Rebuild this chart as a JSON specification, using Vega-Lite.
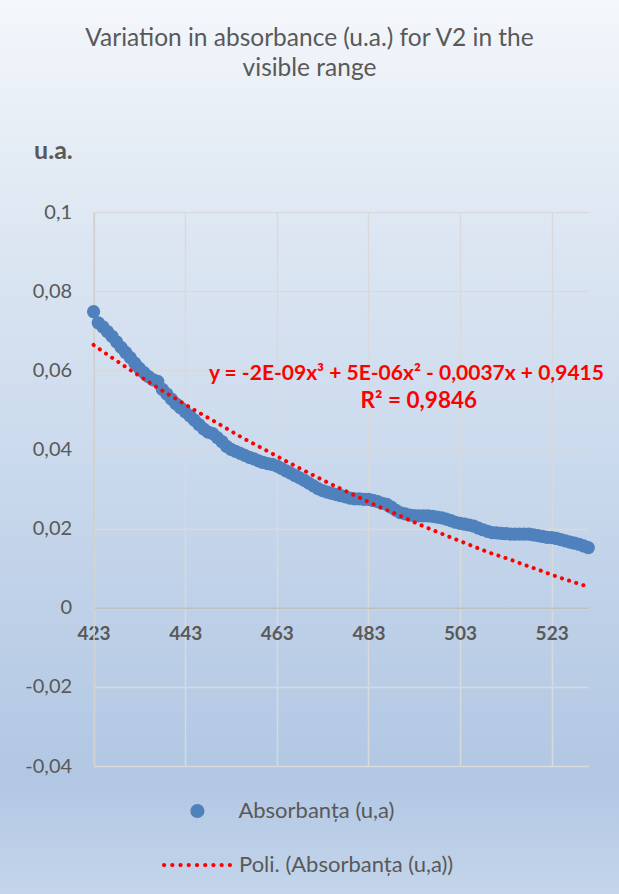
{
  "$schema": "https://vega.github.io/schema/vega-lite/v6.json",
  "width": 619,
  "height": 894,
  "autosize": {"type": "none"},
  "padding": 0,
  "background": "#ffffff",
  "view": {"stroke": null, "fill": {"gradient": "linear", "x1": 0, "y1": 0, "x2": 0, "y2": 1, "stops": [{"offset": 0, "color": "#f4f7fb"}, {"offset": 0.23, "color": "#dfe8f3"}, {"offset": 0.5, "color": "#cbdaed"}, {"offset": 0.87, "color": "#b1c7e3"}, {"offset": 1, "color": "#c4d5eb"}]}},
  "title": {"text": ["Variation in absorbance (u.a.) for V2 in the", "visible range"], "font": "Lato", "fontSize": 24.5, "fontWeight": "normal", "color": "#595959", "lineHeight": 30, "anchor": "middle", "offset": -81},
  "config": {"font": "Lato"},
  "datasets": {
    "absorbance": [
      {"wavelength": 423, "absorbance": 0.0748}, {"wavelength": 424, "absorbance": 0.0720}, {"wavelength": 425, "absorbance": 0.0710}, {"wavelength": 426, "absorbance": 0.0698}, {"wavelength": 427, "absorbance": 0.0686}, {"wavelength": 428, "absorbance": 0.0672}, {"wavelength": 429, "absorbance": 0.0658}, {"wavelength": 430, "absorbance": 0.0645}, {"wavelength": 431, "absorbance": 0.0632}, {"wavelength": 432, "absorbance": 0.0618},
      {"wavelength": 433, "absorbance": 0.0605}, {"wavelength": 434, "absorbance": 0.0594}, {"wavelength": 435, "absorbance": 0.0584}, {"wavelength": 436, "absorbance": 0.0576}, {"wavelength": 437, "absorbance": 0.0572}, {"wavelength": 438, "absorbance": 0.0552}, {"wavelength": 439, "absorbance": 0.0540}, {"wavelength": 440, "absorbance": 0.0527}, {"wavelength": 441, "absorbance": 0.0515}, {"wavelength": 442, "absorbance": 0.0505},
      {"wavelength": 443, "absorbance": 0.0495}, {"wavelength": 444, "absorbance": 0.0485}, {"wavelength": 445, "absorbance": 0.0474}, {"wavelength": 446, "absorbance": 0.0463}, {"wavelength": 447, "absorbance": 0.0452}, {"wavelength": 448, "absorbance": 0.0444}, {"wavelength": 449, "absorbance": 0.0440}, {"wavelength": 450, "absorbance": 0.0430}, {"wavelength": 451, "absorbance": 0.0420}, {"wavelength": 452, "absorbance": 0.0408},
      {"wavelength": 453, "absorbance": 0.0400}, {"wavelength": 454, "absorbance": 0.0395}, {"wavelength": 455, "absorbance": 0.0390}, {"wavelength": 456, "absorbance": 0.0385}, {"wavelength": 457, "absorbance": 0.0380}, {"wavelength": 458, "absorbance": 0.0376}, {"wavelength": 459, "absorbance": 0.0371}, {"wavelength": 460, "absorbance": 0.0367}, {"wavelength": 461, "absorbance": 0.0364}, {"wavelength": 462, "absorbance": 0.0362},
      {"wavelength": 463, "absorbance": 0.0358}, {"wavelength": 464, "absorbance": 0.0352}, {"wavelength": 465, "absorbance": 0.0346}, {"wavelength": 466, "absorbance": 0.0340}, {"wavelength": 467, "absorbance": 0.0334}, {"wavelength": 468, "absorbance": 0.0328}, {"wavelength": 469, "absorbance": 0.0322}, {"wavelength": 470, "absorbance": 0.0315}, {"wavelength": 471, "absorbance": 0.0308}, {"wavelength": 472, "absorbance": 0.0301},
      {"wavelength": 473, "absorbance": 0.0296}, {"wavelength": 474, "absorbance": 0.0292}, {"wavelength": 475, "absorbance": 0.0289}, {"wavelength": 476, "absorbance": 0.0286}, {"wavelength": 477, "absorbance": 0.0283}, {"wavelength": 478, "absorbance": 0.0280}, {"wavelength": 479, "absorbance": 0.0277}, {"wavelength": 480, "absorbance": 0.0275}, {"wavelength": 481, "absorbance": 0.0275}, {"wavelength": 482, "absorbance": 0.0274},
      {"wavelength": 483, "absorbance": 0.0274}, {"wavelength": 484, "absorbance": 0.0271}, {"wavelength": 485, "absorbance": 0.0268}, {"wavelength": 486, "absorbance": 0.0264}, {"wavelength": 487, "absorbance": 0.0261}, {"wavelength": 488, "absorbance": 0.0254}, {"wavelength": 489, "absorbance": 0.0246}, {"wavelength": 490, "absorbance": 0.0240}, {"wavelength": 491, "absorbance": 0.0237}, {"wavelength": 492, "absorbance": 0.0234},
      {"wavelength": 493, "absorbance": 0.0233}, {"wavelength": 494, "absorbance": 0.0232}, {"wavelength": 495, "absorbance": 0.0232}, {"wavelength": 496, "absorbance": 0.0232}, {"wavelength": 497, "absorbance": 0.0231}, {"wavelength": 498, "absorbance": 0.0229}, {"wavelength": 499, "absorbance": 0.0227}, {"wavelength": 500, "absorbance": 0.0224}, {"wavelength": 501, "absorbance": 0.0220}, {"wavelength": 502, "absorbance": 0.0216},
      {"wavelength": 503, "absorbance": 0.0213}, {"wavelength": 504, "absorbance": 0.0211}, {"wavelength": 505, "absorbance": 0.0209}, {"wavelength": 506, "absorbance": 0.0206}, {"wavelength": 507, "absorbance": 0.0201}, {"wavelength": 508, "absorbance": 0.0197}, {"wavelength": 509, "absorbance": 0.0193}, {"wavelength": 510, "absorbance": 0.0190}, {"wavelength": 511, "absorbance": 0.0189}, {"wavelength": 512, "absorbance": 0.0188},
      {"wavelength": 513, "absorbance": 0.0187}, {"wavelength": 514, "absorbance": 0.0186}, {"wavelength": 515, "absorbance": 0.0186}, {"wavelength": 516, "absorbance": 0.0186}, {"wavelength": 517, "absorbance": 0.0186}, {"wavelength": 518, "absorbance": 0.0186}, {"wavelength": 519, "absorbance": 0.0184}, {"wavelength": 520, "absorbance": 0.0182}, {"wavelength": 521, "absorbance": 0.0180}, {"wavelength": 522, "absorbance": 0.0178},
      {"wavelength": 523, "absorbance": 0.0177}, {"wavelength": 524, "absorbance": 0.0175}, {"wavelength": 525, "absorbance": 0.0172}, {"wavelength": 526, "absorbance": 0.0169}, {"wavelength": 527, "absorbance": 0.0166}, {"wavelength": 528, "absorbance": 0.0163}, {"wavelength": 529, "absorbance": 0.0160}, {"wavelength": 530, "absorbance": 0.0156}, {"wavelength": 531, "absorbance": 0.0152}
    ],
    "trend": [
      {"wavelength": 423, "absorbance": 0.0664}, {"wavelength": 427.5, "absorbance": 0.0628}, {"wavelength": 431.9, "absorbance": 0.0594}, {"wavelength": 436.4, "absorbance": 0.0560}, {"wavelength": 441.1, "absorbance": 0.0527},
      {"wavelength": 445.7, "absorbance": 0.0495}, {"wavelength": 450.4, "absorbance": 0.0464}, {"wavelength": 455.1, "absorbance": 0.0432}, {"wavelength": 459.8, "absorbance": 0.0403}, {"wavelength": 464.6, "absorbance": 0.0373},
      {"wavelength": 469.4, "absorbance": 0.0344}, {"wavelength": 474.2, "absorbance": 0.0316}, {"wavelength": 479.1, "absorbance": 0.0289}, {"wavelength": 484, "absorbance": 0.0262}, {"wavelength": 489, "absorbance": 0.0237},
      {"wavelength": 494, "absorbance": 0.0211}, {"wavelength": 499, "absorbance": 0.0187}, {"wavelength": 504, "absorbance": 0.0164}, {"wavelength": 509, "absorbance": 0.0141}, {"wavelength": 514.1, "absorbance": 0.0121},
      {"wavelength": 517.6, "absorbance": 0.0106}, {"wavelength": 521, "absorbance": 0.0092}, {"wavelength": 524.3, "absorbance": 0.0078}, {"wavelength": 527.7, "absorbance": 0.0065}, {"wavelength": 531, "absorbance": 0.0053}
    ]
  },
  "layer": [
    {
      "data": {"name": "absorbance"},
      "mark": {"type": "circle", "size": 175, "opacity": 1},
      "encoding": {
        "x": {"field": "wavelength", "type": "quantitative",
          "scale": {"domain": [423, 531], "range": [93.6, 588.3], "nice": false, "zero": false},
          "axis": {"orient": "top", "offset": {"expr": "-scale('y', 0)"}, "values": [423, 443, 463, 483, 503, 523], "title": null, "grid": true, "gridColor": "#d9d9d9", "gridWidth": 1.5, "domainColor": "#bfbfbf", "domainWidth": 1.5, "ticks": false, "tickSize": 0, "labelFont": "Lato", "labelFontSize": 19, "labelFontWeight": "bold", "labelColor": "#595959", "labelBaseline": "top", "labelPadding": -17, "labelFlush": false, "labelOverlap": false}},
        "y": {"field": "absorbance", "type": "quantitative",
          "scale": {"domain": [-0.04, 0.1], "range": [766, 212], "nice": false, "zero": false},
          "axis": {"offset": {"expr": "-scale('x', 423)"}, "values": [-0.04, -0.02, 0, 0.02, 0.04, 0.06, 0.08, 0.1], "labelExpr": "replace(replace(format(datum.value, '.2~f'), '.', ','), '−', '-')", "title": "u.a.", "titleAngle": 0, "titleAlign": "left", "titleBaseline": "middle", "titleX": -60, "titleY": 150, "titleFont": "Lato", "titleFontSize": 25, "titleFontWeight": "bold", "titleColor": "#595959", "grid": true, "gridColor": "#d9d9d9", "gridWidth": 1.5, "domainColor": "#cfcfcf", "domainWidth": 1.5, "ticks": false, "tickSize": 0, "labelFont": "Lato", "labelFontSize": 20, "labelColor": "#595959", "labelPadding": 22, "labelOverlap": false}},
        "color": {"datum": "Absorbanța (u,a)", "type": "nominal",
          "scale": {"domain": ["Absorbanța (u,a)"], "range": ["#4f81bd"]},
          "legend": {"title": null, "orient": "none", "legendX": 186.4, "legendY": 801, "direction": "vertical", "symbolType": "circle", "symbolSize": 200, "symbolStrokeWidth": 0, "symbolOpacity": 1, "clipHeight": 20, "labelFont": "Lato", "labelFontSize": 22, "labelColor": "#595959", "labelOffset": 30, "labelLimit": 400}}
      }
    },
    {
      "data": {"name": "trend"},
      "mark": {"type": "line", "color": "#ff0000", "strokeWidth": 4, "strokeCap": "round", "interpolate": "monotone"},
      "encoding": {
        "x": {"field": "wavelength", "type": "quantitative"},
        "y": {"field": "absorbance", "type": "quantitative"},
        "strokeDash": {"datum": "Poli. (Absorbanța (u,a))", "type": "nominal",
          "scale": {"domain": ["Poli. (Absorbanța (u,a))"], "range": [[0.1, 7.4]]},
          "legend": {"title": null, "orient": "none", "legendX": 162, "legendY": 855, "direction": "vertical", "symbolType": "M-1,0a0.06,0.06 0 1,0 0.12,0a0.06,0.06 0 1,0 -0.12,0M-0.765,0a0.06,0.06 0 1,0 0.12,0a0.06,0.06 0 1,0 -0.12,0M-0.53,0a0.06,0.06 0 1,0 0.12,0a0.06,0.06 0 1,0 -0.12,0M-0.295,0a0.06,0.06 0 1,0 0.12,0a0.06,0.06 0 1,0 -0.12,0M-0.06,0a0.06,0.06 0 1,0 0.12,0a0.06,0.06 0 1,0 -0.12,0M0.175,0a0.06,0.06 0 1,0 0.12,0a0.06,0.06 0 1,0 -0.12,0M0.41,0a0.06,0.06 0 1,0 0.12,0a0.06,0.06 0 1,0 -0.12,0M0.645,0a0.06,0.06 0 1,0 0.12,0a0.06,0.06 0 1,0 -0.12,0M0.88,0a0.06,0.06 0 1,0 0.12,0a0.06,0.06 0 1,0 -0.12,0Z", "symbolSize": 4900, "symbolFillColor": "#ff0000", "symbolStrokeColor": "#ff0000", "symbolStrokeWidth": 0, "symbolOpacity": 1, "clipHeight": 20, "labelFont": "Lato", "labelFontSize": 22, "labelColor": "#595959", "labelOffset": 7, "labelLimit": 400}}
      }
    },
    {
      "data": {"values": [{}]},
      "mark": {"type": "text", "text": "y = -2E-09x³ + 5E-06x² - 0,0037x + 0,9415", "font": "Lato", "fontSize": 21, "fontWeight": "bold", "color": "#ff0000", "align": "center", "baseline": "middle"},
      "encoding": {
        "x": {"datum": 491.3, "type": "quantitative"},
        "y": {"datum": 0.059, "type": "quantitative"}
      }
    },
    {
      "data": {"values": [{}]},
      "mark": {"type": "text", "text": "R² = 0,9846", "font": "Lato", "fontSize": 22.5, "fontWeight": "bold", "color": "#ff0000", "align": "center", "baseline": "middle"},
      "encoding": {
        "x": {"datum": 494, "type": "quantitative"},
        "y": {"datum": 0.0522, "type": "quantitative"}
      }
    }
  ]
}
